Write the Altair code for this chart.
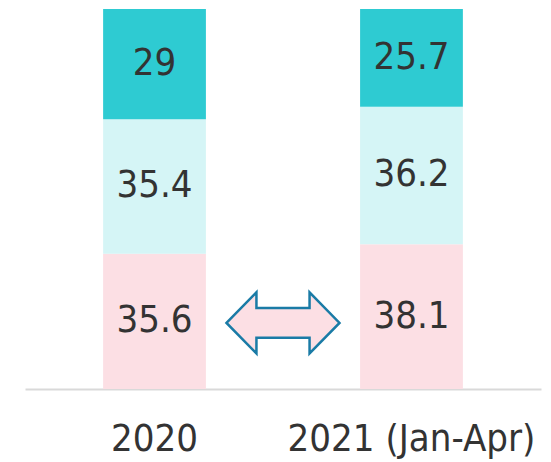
import altair as alt
import pandas as pd

years = ["2020", "2021 (Jan-Apr)"]
segments = ["bottom", "middle", "top"]
values_2020 = [35.6, 35.4, 29]
values_2021 = [38.1, 36.2, 25.7]
labels_2020 = ["35.6", "35.4", "29"]
labels_2021 = ["38.1", "36.2", "25.7"]
seg_colors = ["#FCDFE4", "#D5F5F6", "#2ECBD2"]
arrow_y = [17.4]

rows = []
for i, s in enumerate(segments):
    rows.append({"year": years[0], "seg": s, "order": i, "value": values_2020[i], "label": labels_2020[i]})
    rows.append({"year": years[1], "seg": s, "order": i, "value": values_2021[i], "label": labels_2021[i]})
df = pd.DataFrame(rows)

W, H = 516, 380
font = "DejaVu Sans Condensed"

xenc = alt.X("year:N", sort=years,
             scale=alt.Scale(paddingInner=0.6, paddingOuter=0.304),
             axis=alt.Axis(title=None, labelAngle=0, ticks=False, domainColor="#D9D9D9",
                           domainWidth=2, labelFont=font, labelFontSize=38,
                           labelColor="#333333", labelPadding=31, labelLimit=0))
yscale = alt.Scale(domain=[0, 100], nice=False, zero=True)

bars = alt.Chart(df).mark_bar(strokeWidth=0).encode(
    x=xenc,
    y=alt.Y("value:Q", stack="zero", scale=yscale, axis=None),
    color=alt.Color("seg:N", sort=segments,
                    scale=alt.Scale(domain=segments, range=seg_colors), legend=None),
    order=alt.Order("order:Q"),
)

texts = alt.Chart(df).transform_stack(
    stack="value", groupby=["year"], sort=[alt.SortField("order")], as_=["v0", "v1"]
).transform_calculate(
    mid="(datum.v0 + datum.v1) / 2"
).mark_text(font=font, fontSize=38, color="#333333", baseline="middle").encode(
    x=alt.X("year:N", sort=years),
    y=alt.Y("mid:Q", scale=yscale),
    text="label:N",
)

arrow_path = ("M -1 0 L -0.47 -0.54 L -0.47 -0.265 L 0.47 -0.265 L 0.47 -0.54 L 1 0 "
              "L 0.47 0.54 L 0.47 0.265 L -0.47 0.265 L -0.47 0.54 Z")
arrow_df = pd.DataFrame({"y": arrow_y})
arrow = alt.Chart(arrow_df).mark_point(
    shape=arrow_path, size=12769, filled=True, fill="#FCDFE4", fillOpacity=1,
    stroke="#1A7BA6", strokeWidth=2.5, opacity=1
).encode(
    x=alt.value(W / 2),
    y=alt.Y("y:Q", scale=yscale),
)

chart = alt.layer(bars, texts, arrow).properties(
    width=W, height=H,
    autosize=alt.AutoSizeParams(type="none"),
    padding={"left": 17, "top": 1, "right": 2, "bottom": 73},
).configure_view(stroke=None)

chart.save("out.html", embed_options={"renderer": "svg", "actions": False})
